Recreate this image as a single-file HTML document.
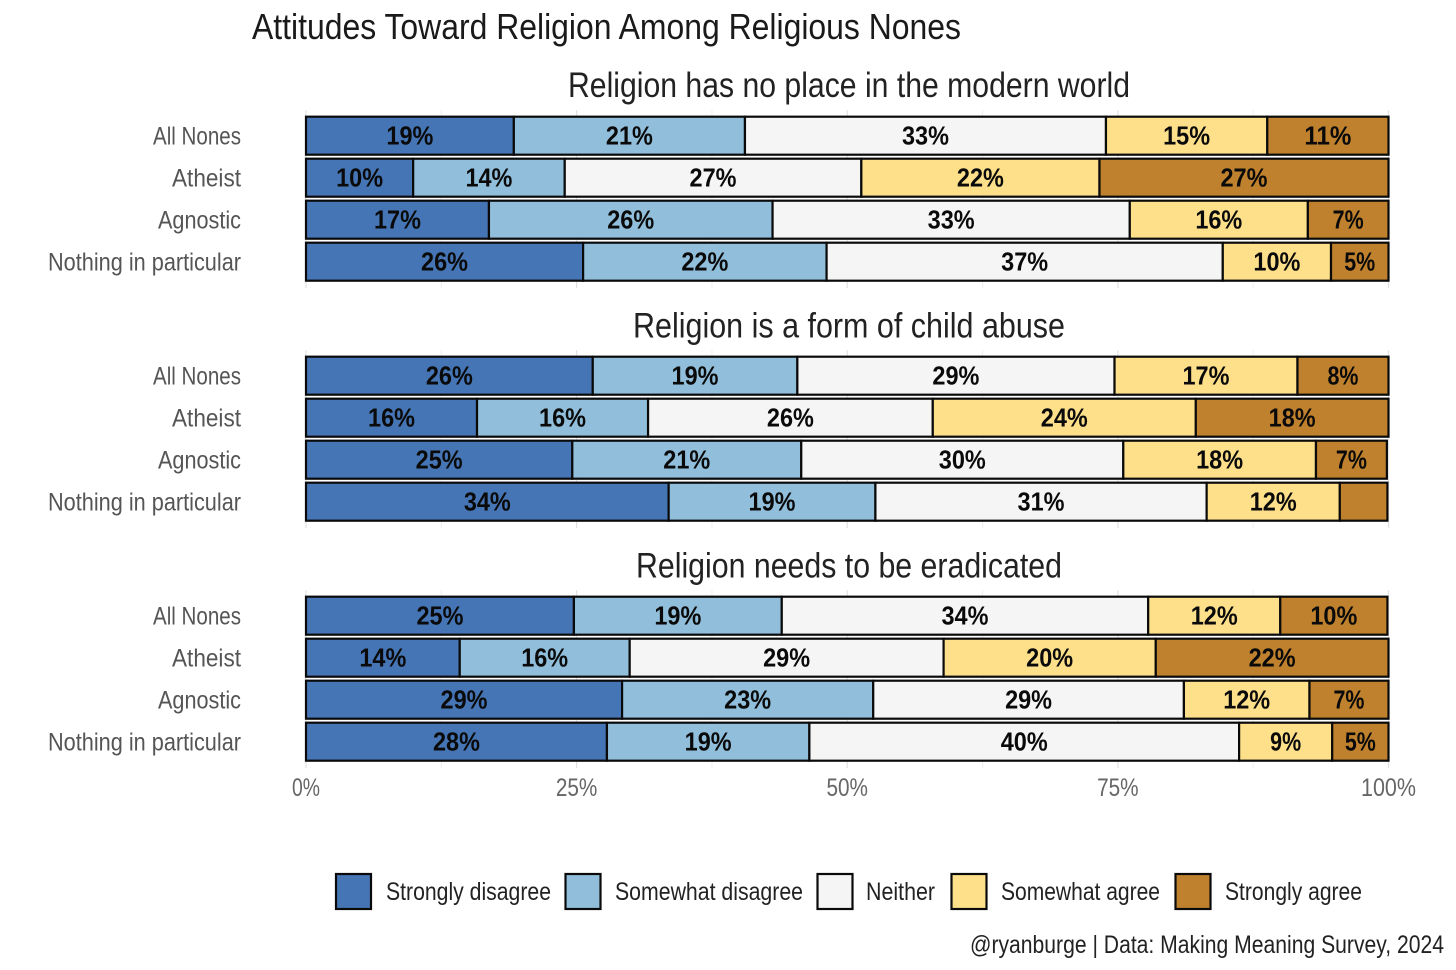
<!DOCTYPE html>
<html lang="en">
<head>
<meta charset="utf-8">
<title>Attitudes Toward Religion Among Religious Nones</title>
<style>
html,body{margin:0;padding:0;background:#fff;width:1456px;height:970px;overflow:hidden}
svg{display:block}
text{font-family:"Liberation Sans Narrow","Liberation Sans",sans-serif}
.title{font-size:36px;fill:#1a1a1a}
.panel-title{font-size:35px;fill:#222}
.row-label{font-size:25px;fill:#555}
.tick-label{font-size:25px;fill:#666}
.value{font-size:26px;font-weight:bold;fill:#0a0a0a}
.legend-label{font-size:25px;fill:#222}
.caption{font-size:25px;fill:#222}
</style>
</head>
<body>
<svg id="chart" xmlns="http://www.w3.org/2000/svg" width="1456" height="970" viewBox="0 0 1456 970">
  <text class="title" x="252" y="39" textLength="709" lengthAdjust="spacingAndGlyphs">Attitudes Toward Religion Among Religious Nones</text>
  <g id="panels"></g>
  <g id="axis"></g>
  <g>
    <g>
      <rect x="336" y="874" width="35" height="35" fill="#4575b4" stroke="#0a0a0a" stroke-width="2.2"/>
      <text class="legend-label" x="386" y="900" textLength="165" lengthAdjust="spacingAndGlyphs">Strongly disagree</text>
    </g>
    <g>
      <rect x="565.500" y="874" width="35" height="35" fill="#91bfdb" stroke="#0a0a0a" stroke-width="2.2"/>
      <text class="legend-label" x="615" y="900" textLength="188" lengthAdjust="spacingAndGlyphs">Somewhat disagree</text>
    </g>
    <g>
      <rect x="817.500" y="874" width="35" height="35" fill="#f5f5f5" stroke="#0a0a0a" stroke-width="2.2"/>
      <text class="legend-label" x="866" y="900" textLength="69" lengthAdjust="spacingAndGlyphs">Neither</text>
    </g>
    <g>
      <rect x="951.500" y="874" width="35" height="35" fill="#fee08b" stroke="#0a0a0a" stroke-width="2.2"/>
      <text class="legend-label" x="1001" y="900" textLength="159" lengthAdjust="spacingAndGlyphs">Somewhat agree</text>
    </g>
    <g>
      <rect x="1175.500" y="874" width="35" height="35" fill="#bf812d" stroke="#0a0a0a" stroke-width="2.2"/>
      <text class="legend-label" x="1225" y="900" textLength="137" lengthAdjust="spacingAndGlyphs">Strongly agree</text>
    </g>
  </g>
  <text class="caption" x="970" y="953" textLength="474" lengthAdjust="spacingAndGlyphs">@ryanburge | Data: Making Meaning Survey, 2024</text>
</svg>
<script>
// ---- data ----
const categories = ["All Nones", "Atheist", "Agnostic", "Nothing in particular"];
const responses = ["Strongly disagree", "Somewhat disagree", "Neither", "Somewhat agree", "Strongly agree"];
const panelTitles = ["Religion has no place in the modern world", "Religion is a form of child abuse", "Religion needs to be eradicated"];
const xTicks = [0, 25, 50, 75, 100];
const noPlaceValues = [
  [19.2, 21.35, 33.35, 14.9, 11.2],
  [9.9, 14.0, 27.4, 22.0, 26.7],
  [16.9, 26.2, 33.0, 16.45, 7.45],
  [25.6, 22.49, 36.6, 10.0, 5.31]
];
const childAbuseValues = [
  [26.49, 18.9, 29.3, 16.9, 8.41],
  [15.8, 15.8, 26.3, 24.3, 17.8],
  [24.6, 21.15, 29.75, 17.8, 6.55],
  [33.5, 19.1, 30.6, 12.3, 4.4]
];
const eradicatedValues = [
  [24.75, 19.2, 33.85, 12.2, 9.9],
  [14.2, 15.7, 29.0, 19.6, 21.5],
  [29.2, 23.2, 28.7, 11.6, 7.3],
  [27.8, 18.7, 39.7, 8.6, 5.2]
];
const panelValues = [noPlaceValues, childAbuseValues, eradicatedValues];

// ---- style / layout ----
const colors = ["#4575b4", "#91bfdb", "#f5f5f5", "#fee08b", "#bf812d"];
const minLabelled = 5;
const panelRowStart = [136, 376, 616];
const rowStep = 42;
const barHeight = 38;
const titleBaselines = [97, 337.5, 577.5];
const titleFits = [562, 432, 426];
const rowLabelFits = [88, 69, 83, 193];
const xScale = v => 306 + v * 10.825;
const valueFit = s => s.length * 16 - 1;
const tickFit = s => s.length * 13.5 + 1;
const slug = s => s.toLowerCase().replace(/[^a-z0-9]+/g, '-');
const NS = 'http://www.w3.org/2000/svg';

function make(tag, parent, attrs, text) {
  const el = document.createElementNS(NS, tag);
  for (const k in attrs) el.setAttribute(k, attrs[k]);
  if (text !== undefined) el.textContent = text;
  parent.appendChild(el);
  return el;
}

const panelsRoot = document.getElementById('panels');
const axisRoot = document.getElementById('axis');

panelValues.forEach((rows, p) => {
  const top = panelRowStart[p];
  const group = make('g', panelsRoot, {});
  
  

  const title = make('text', group, {
    class: 'panel-title', x: 849, y: titleBaselines[p], 'text-anchor': 'middle',
    textLength: titleFits[p], lengthAdjust: 'spacingAndGlyphs'
  }, panelTitles[p]);
  
  

  // vertical grid stubs at major and minor breaks
  for (let t = 0; t <= 100; t += 12.5) {
    const major = t % 25 === 0;
    const grid = make('line', group, {
      x1: xScale(t), x2: xScale(t),
      y1: top - 26, y2: top + rowStep * 3 + 26,
      stroke: major ? '#e2e2e2' : '#eeeeee', 'stroke-width': major ? 1.2 : 1
    });
    
    
  }

  rows.forEach((vals, r) => {
    const cy = top + r * rowStep;
    const label = make('text', group, {
      class: 'row-label', x: 241, y: cy + 8.5, 'text-anchor': 'end',
      textLength: rowLabelFits[r], lengthAdjust: 'spacingAndGlyphs'
    }, categories[r]);
    
    

    let cum = 0;
    vals.forEach((v, s) => {
      const x0 = xScale(cum);
      const x1 = xScale(cum + v);
      cum += v;
      const seg = make('rect', group, {
        x: x0, y: cy - barHeight / 2 - 0.3, width: x1 - x0, height: barHeight,
        fill: colors[s], stroke: '#0a0a0a', 'stroke-width': 2.2
      });
      
      
    });

    cum = 0;
    vals.forEach((v, s) => {
      const mid = xScale(cum + v / 2);
      cum += v;
      if (v < minLabelled) return;
      const str = Math.round(v) + '%';
      const val = make('text', group, {
        class: 'value', x: mid, y: cy + 8.5, 'text-anchor': 'middle',
        textLength: valueFit(str), lengthAdjust: 'spacingAndGlyphs'
      }, str);
      
      
    });
  });
});

xTicks.forEach(t => {
  const str = t + '%';
  const tick = make('text', axisRoot, {
    class: 'tick-label', x: xScale(t), y: 796, 'text-anchor': 'middle',
    textLength: tickFit(str), lengthAdjust: 'spacingAndGlyphs'
  }, str);
  
  
});
</script>
</body>
</html>
